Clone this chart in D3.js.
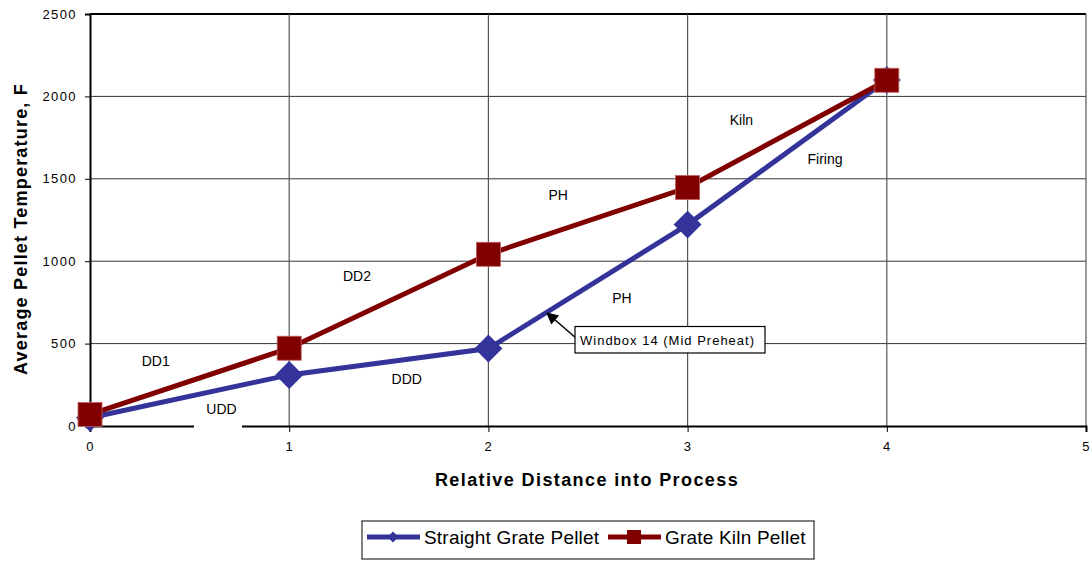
<!DOCTYPE html>
<html lang="en">
<head>
    <meta charset="UTF-8">
    <title>Pellet Temperature</title>
    <script src="https://d3js.org/d3.v7.min.js"></script>
    <style>
        body { margin: 0; background: #fff; }
        text { font-family: "Liberation Sans", Arial, sans-serif; }
    </style>
</head>
<body>
<script type="text/javascript">
    // data
    var distance = [0, 1, 2, 3, 4];
    var straightGrate = [50, 310, 470, 1222, 2100];
    var grateKiln = [70, 472, 1042, 1447, 2098];
    var xTicks = [0, 1, 2, 3, 4, 5];
    var yTicks = [0, 500, 1000, 1500, 2000, 2500];
    var zoneLabels = [
        {text: "DD1", x: 0.33, y: 365},
        {text: "UDD", x: 0.66, y: 70},
        {text: "DDD", x: 1.59, y: 252},
        {text: "DD2", x: 1.34, y: 880},
        {text: "PH", x: 2.35, y: 1370},
        {text: "PH", x: 2.67, y: 748},
        {text: "Kiln", x: 3.27, y: 1828},
        {text: "Firing", x: 3.69, y: 1592}
    ];

    var width = 1091, height = 562;
    var plotLeft = 90, plotRight = 1086, plotTop = 14, plotBottom = 426;

    var xScale = d3.scaleLinear().domain([0, 5]).range([plotLeft, plotRight]);
    var yScale = d3.scaleLinear().domain([0, 2500]).range([plotBottom, plotTop]);

    var svg = d3.select("body").append("svg")
        .attr("width", width)
        .attr("height", height);

    // gridlines
    svg.append("g").selectAll("line")
        .data(yTicks.slice(1))
        .enter().append("line")
        .attr("x1", plotLeft).attr("x2", plotRight)
        .attr("y1", function (d) { return yScale(d); })
        .attr("y2", function (d) { return yScale(d); })
        .attr("stroke", function (d) { return d === 2500 ? "#000" : "#333"; })
        .attr("stroke-width", function (d) { return d === 2500 ? 2 : 1; });
    svg.append("g").selectAll("line")
        .data(xTicks.slice(1))
        .enter().append("line")
        .attr("x1", function (d) { return xScale(d); })
        .attr("x2", function (d) { return xScale(d); })
        .attr("y1", plotTop).attr("y2", plotBottom)
        .attr("stroke", "#555")
        .attr("stroke-width", 1.2);

    // axes
    var yAxis = d3.axisLeft(yScale).tickValues(yTicks).tickSize(5).tickPadding(8)
        .tickFormat(d3.format("d"));
    var xAxis = d3.axisBottom(xScale).tickValues(xTicks).tickSize(6).tickPadding(10)
        .tickFormat(d3.format("d"));
    var gy = svg.append("g").attr("transform", "translate(" + plotLeft + ",0)").call(yAxis);
    var gx = svg.append("g").attr("transform", "translate(0," + plotBottom + ")").call(xAxis);
    [gx, gy].forEach(function (g) {
        g.select(".domain").attr("stroke", "#000").attr("stroke-width", 2);
        g.selectAll(".tick line").attr("stroke", "#000");
        g.selectAll(".tick text")
            .attr("font-size", 13)
            .attr("letter-spacing", 1.4)
            .attr("fill", "#000")
            .style("font-family", "'Liberation Sans', Arial, sans-serif");
    });

    // white patch under UDD label crossing the axis
    svg.append("rect")
        .attr("x", 194).attr("y", plotBottom - 2)
        .attr("width", 48).attr("height", 4)
        .attr("fill", "#fff");

    // axis titles
    svg.append("text")
        .attr("transform", "translate(27,229) rotate(-90)")
        .attr("text-anchor", "middle")
        .attr("font-size", 18)
        .attr("letter-spacing", 1.2)
        .attr("font-weight", "bold")
        .text("Average Pellet Temperature, F");
    svg.append("text")
        .attr("x", 587).attr("y", 486)
        .attr("text-anchor", "middle")
        .attr("font-size", 18)
        .attr("letter-spacing", 1.4)
        .attr("font-weight", "bold")
        .text("Relative Distance into Process");

    // zone labels
    svg.append("g").selectAll("text")
        .data(zoneLabels)
        .enter().append("text")
        .attr("x", function (d) { return xScale(d.x); })
        .attr("y", function (d) { return yScale(d.y); })
        .attr("text-anchor", "middle")
        .attr("font-size", 14)
        .text(function (d) { return d.text; });

    var line = d3.line()
        .x(function (d, i) { return xScale(distance[i]); })
        .y(function (d) { return yScale(d); });

    var blue = "#333399", red = "#800000";

    // straight grate
    svg.append("path").datum(straightGrate)
        .attr("d", line).attr("fill", "none")
        .attr("stroke", blue).attr("stroke-width", 5);
    svg.append("g").selectAll("path")
        .data(straightGrate)
        .enter().append("path")
        .attr("d", d3.symbol().type(d3.symbolSquare).size(390))
        .attr("transform", function (d, i) {
            return "translate(" + xScale(distance[i]) + "," + yScale(d) + ") rotate(45)";
        })
        .attr("fill", blue);

    // grate kiln
    svg.append("path").datum(grateKiln)
        .attr("d", line).attr("fill", "none")
        .attr("stroke", red).attr("stroke-width", 5);
    svg.append("g").selectAll("rect")
        .data(grateKiln)
        .enter().append("rect")
        .attr("x", function (d, i) { return xScale(distance[i]) - 12; })
        .attr("y", function (d) { return yScale(d) - 12; })
        .attr("width", 24).attr("height", 24)
        .attr("fill", red)
        .attr("stroke", "#c06060").attr("stroke-width", 0.8);

    // annotation
    svg.append("defs").append("marker")
        .attr("id", "arrow")
        .attr("viewBox", "0 0 10 10")
        .attr("refX", 9).attr("refY", 5)
        .attr("markerWidth", 14).attr("markerHeight", 12)
        .attr("markerUnits", "userSpaceOnUse")
        .attr("orient", "auto")
        .append("path").attr("d", "M0,0 L10,5 L0,10 z").attr("fill", "#000");
    svg.append("line")
        .attr("x1", 576).attr("y1", 338)
        .attr("x2", 547).attr("y2", 313)
        .attr("stroke", "#000").attr("stroke-width", 1.5)
        .attr("marker-end", "url(#arrow)");
    svg.append("rect")
        .attr("x", 575).attr("y", 326.5)
        .attr("width", 190).attr("height", 26.5)
        .attr("fill", "#fff").attr("stroke", "#000").attr("stroke-width", 1.2);
    svg.append("text")
        .attr("x", 580).attr("y", 344.5)
        .attr("font-size", 13)
        .attr("letter-spacing", 1.0)
        .text("Windbox 14 (Mid Preheat)");

    // legend
    var legend = svg.append("g");
    legend.append("rect")
        .attr("x", 362).attr("y", 521)
        .attr("width", 452).attr("height", 38)
        .attr("fill", "#fff").attr("stroke", "#000").attr("stroke-width", 1);
    var entries = [
        {name: "Straight Grate Pellet", color: blue, x: 367, mark: "diamond"},
        {name: "Grate Kiln Pellet", color: red, x: 608, mark: "square"}
    ];
    entries.forEach(function (e) {
        legend.append("line")
            .attr("x1", e.x).attr("x2", e.x + 53)
            .attr("y1", 537).attr("y2", 537)
            .attr("stroke", e.color).attr("stroke-width", 5);
        if (e.mark === "diamond") {
            legend.append("path")
                .attr("d", d3.symbol().type(d3.symbolSquare).size(60))
                .attr("transform", "translate(" + (e.x + 26) + ",537) rotate(45)")
                .attr("fill", e.color);
        } else {
            legend.append("rect")
                .attr("x", e.x + 19).attr("y", 530)
                .attr("width", 14).attr("height", 14)
                .attr("fill", e.color);
        }
        legend.append("text")
            .attr("x", e.x + 57).attr("y", 544)
            .attr("font-size", 19)
            .attr("letter-spacing", 0.2)
            .text(e.name);
    });
</script>
</body>
</html>
